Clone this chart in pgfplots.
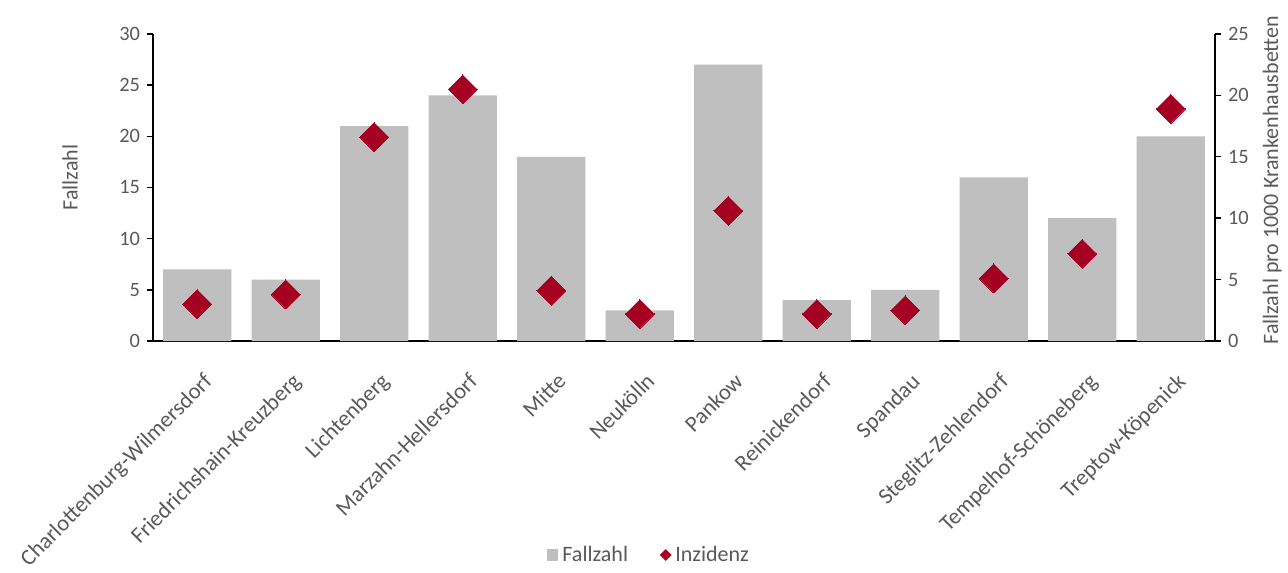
\documentclass[border=0pt]{standalone}
\usepackage{pgfplots}
\pgfplotsset{compat=1.18}
\usepackage{fontspec}
\setmainfont{Carlito}
\definecolor{barg}{HTML}{BFBFBF}
\definecolor{dred}{HTML}{A50021}
\definecolor{txt}{HTML}{595959}
\begin{document}
\begin{tikzpicture}
\pgfplotsset{
  every axis/.append style={
    scale only axis, width=531pt, height=153.5pt,
    xmin=-0.5, xmax=11.5, ymin=0,
    font=\fontsize{11}{13}\selectfont,
    tick label style={text=txt, font=\fontsize{10.2}{12}\selectfont},
    label style={text=txt, font=\fontsize{11}{13}\selectfont},
    /pgf/number format/assume math mode=true,
    tick align=outside, tick style={black, line width=0.7pt},
    major tick length=3pt,
    axis line style={black, line width=0.8pt},
  }
}
\begin{axis}[
  ymax=30, ytick={0,5,...,30},
  axis y line*=left, axis x line*=bottom,
  xtick={0,...,11}, major x tick style={draw=none},
  xticklabels={Charlottenburg-Wilmersdorf,Friedrichshain-Kreuzberg,Lichtenberg,Marzahn-Hellersdorf,Mitte,Neukölln,Pankow,Reinickendorf,Spandau,Steglitz-Zehlendorf,Tempelhof-Schöneberg,Treptow-Köpenick},
  xticklabel style={rotate=45, anchor=north east, xshift=-3.5pt, yshift=-7pt, font=\fontsize{11.3}{13}\selectfont},
  ylabel={Fallzahl},
  ylabel style={at={(axis description cs:-0.078,0.533)}, anchor=center},
  legend style={draw=none, at={(0.468,-0.697)}, anchor=center, legend columns=2,
    /tikz/every even column/.append style={column sep=14pt}, text=txt,
    font=\fontsize{11}{13}\selectfont},
  legend image code/.code={\fill[barg] (0cm,-0.11cm) rectangle (0.2cm,0.11cm);},
]
\addplot[ybar, bar width=0.77, fill=barg, draw=none] coordinates {
 (0,7) (1,6) (2,21) (3,24) (4,18) (5,3) (6,27) (7,4) (8,5) (9,16) (10,12) (11,20)};
\addlegendentry{Fallzahl}
\addlegendimage{legend image code/.code={\fill[dred,rotate=45] (-0.065cm,-0.065cm) rectangle (0.065cm,0.065cm);}}
\addlegendentry{Inzidenz}
\end{axis}
\begin{axis}[
  ymax=25, ytick={0,5,...,25},
  axis y line*=right, axis x line=none,
  ylabel={Fallzahl pro 1000 Krankenhausbetten},
  ylabel style={at={(axis description cs:1.054,0.524)}, anchor=center, rotate=0},
]
\addplot[only marks, color=dred, mark=square*, mark size=5.1pt, mark options={rotate=45, fill=dred, draw=dred, line width=0pt}] coordinates {
 (0,3.0) (1,3.8) (2,16.6) (3,20.5) (4,4.1) (5,2.2) (6,10.6) (7,2.2) (8,2.5) (9,5.1) (10,7.1) (11,18.9)};
\end{axis}
\pgfresetboundingbox
\useasboundingbox (-76.5pt,-115.5pt) rectangle (567.5pt,170.5pt);
\end{tikzpicture}
\end{document}
